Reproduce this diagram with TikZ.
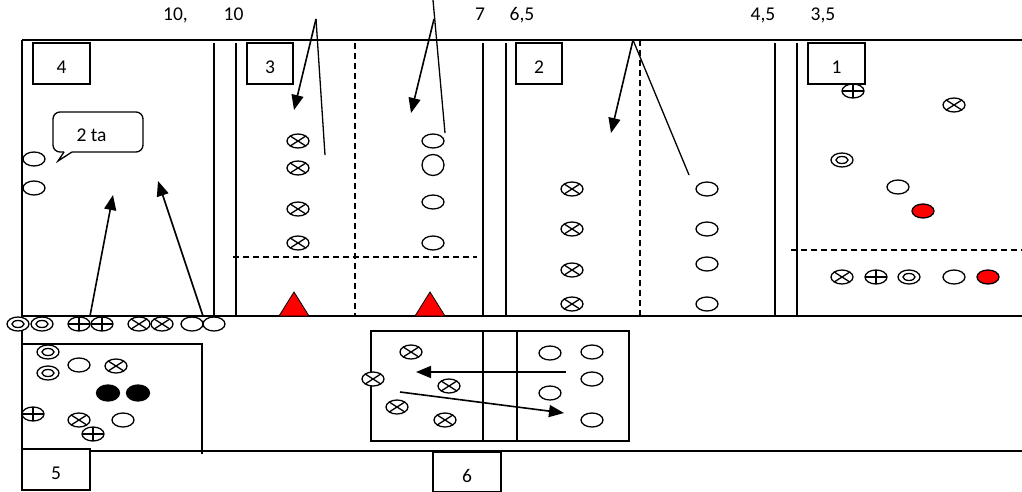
\documentclass[tikz,border=0pt]{standalone}
\usepackage{fontspec}
\setmainfont{Carlito}
\usetikzlibrary{arrows.meta,shapes.geometric}
\tikzset{
  ov/.style={ellipse, draw, line width=1.3pt, fill=white, minimum width=22pt, minimum height=14pt, inner sep=0pt},
  ovx/.style={ov, path picture={\draw[line width=1.3pt] (path picture bounding box.north west) -- (path picture bounding box.south east) (path picture bounding box.south west) -- (path picture bounding box.north east);}},
  ovp/.style={ov, path picture={\draw[line width=1.3pt] (path picture bounding box.north) -- (path picture bounding box.south) (path picture bounding box.west) -- (path picture bounding box.east);}},
  ovo/.style={ov, path picture={\draw[line width=1.3pt] (path picture bounding box.center) ellipse (6pt and 3.5pt);}},
  ovr/.style={ov, fill=red},
  ovk/.style={ov, fill=black, minimum width=23pt, minimum height=16pt},
  lbl/.style={draw, line width=1.2pt, minimum height=41pt, inner sep=0pt, text height=20pt, text depth=0pt},
  wall/.style={line width=1.3pt},
  half/.style={line width=1.3pt, dash pattern=on 6pt off 4pt},
  mv/.style={line width=1.6pt, -{Triangle[length=15pt,width=12pt]}},
  ln/.style={line width=1.3pt},
}
\begin{document}
\begin{tikzpicture}[x=1pt, y=-1pt, font=\fontsize{19.5}{22}\selectfont]
\useasboundingbox (0,0) rectangle (1022,492);
% top numbers
\node[anchor=base] (n10a) at (175.5,21) {10,};
\node[anchor=base] (n10b) at (233.5,21) {10};
\node[anchor=base] (n7) at (480,21) {7};
\node[anchor=base] (n65) at (522,21) {6,5};
\node[anchor=base] (n45) at (763,21) {4,5};
\node[anchor=base] (n35) at (823,21) {3,5};
% frame
\draw[wall] (22,40) -- (1022,40);
\draw[wall] (22,40) -- (22,449);
\draw[wall] (22,316) -- (1022,316);
\draw[wall] (90,451) -- (1022,451);
\draw[wall] (22,344) -- (202,344) -- (202,454);
\draw[wall] (214,43) -- (214,316);
\draw[wall] (236,43) -- (236,316);
\draw[wall] (483,43) -- (483,316);
\draw[wall] (506,43) -- (506,316);
\draw[wall] (775,43) -- (775,316);
\draw[wall] (797,43) -- (797,316);
\draw[half] (355,43) -- (355,316);
\draw[half] (640,40) -- (640,316);
\draw[half] (233,257) -- (477,257);
\draw[half] (791,250) -- (1022,250);
\draw[wall] (371,331) rectangle (629,441);
\draw[wall] (483,331) -- (483,441);
\draw[wall] (517,331) -- (517,441);
% zone labels
\node[lbl, minimum width=57pt] (box4) at (61.5,63.5) {4};
\node[lbl, minimum width=46pt] (box3) at (270,63.5) {3};
\node[lbl, minimum width=46pt] (box2) at (539,63.5) {2};
\node[lbl, minimum width=57pt] (box1) at (836.5,63.5) {1};
\node[lbl, minimum width=68pt] (box5) at (56,469.5) {5};
\node[lbl, minimum width=68pt, minimum height=40pt] (box6) at (467,472) {6};
% speech bubble
\draw[ln, rounded corners=7pt] (64,152) -- (53,152) -- (53,112) -- (143,112) -- (143,152) -- (72,152);
\draw[ln] (72,152) -- (58,161) -- (64,152);
\node[anchor=base] (say) at (91.5,142) {2 ta};
% cones
\draw[line width=0.8pt, fill=red] (279,316) -- (294,292) -- (309,316) -- cycle;
\draw[line width=0.8pt, fill=red] (415,316) -- (430,292) -- (445,316) -- cycle;
% zone 4
\node[ov] (z4a) at (34,159) {};
\node[ov] (z4b) at (34,188) {};
% waiting row
\node[ovo] (w1) at (18,324) {};
\node[ovo] (w2) at (42,324) {};
\node[ovp] (w3) at (79,324) {};
\node[ovp] (w4) at (102,324) {};
\node[ovx] (w5) at (139,324) {};
\node[ovx] (w6) at (162,324) {};
\node[ov] (w7) at (192,324) {};
\node[ov] (w8) at (214,324) {};
% zone 3
\node[ovx] (z3a) at (298,141) {};
\node[ovx] (z3b) at (298,168) {};
\node[ovx] (z3c) at (298,209) {};
\node[ovx] (z3d) at (298,243) {};
\node[ov] (z3e) at (433,141) {};
\node[ov, minimum height=21pt] (z3f) at (433,165) {};
\node[ov] (z3g) at (433,202) {};
\node[ov] (z3h) at (433,243) {};
% zone 2
\node[ovx] (z2a) at (572,189) {};
\node[ovx] (z2b) at (572,229) {};
\node[ovx] (z2c) at (572,270) {};
\node[ovx] (z2d) at (572,304) {};
\node[ov] (z2e) at (707,189) {};
\node[ov] (z2f) at (707,229) {};
\node[ov] (z2g) at (707,264) {};
\node[ov] (z2h) at (707,304) {};
% zone 1
\node[ovp] (z1a) at (853,91) {};
\node[ovx] (z1b) at (954,105) {};
\node[ovo] (z1c) at (842,160) {};
\node[ov] (z1d) at (898,187) {};
\node[ovr] (z1e) at (923,211) {};
\node[ovx] (z1f) at (842,277) {};
\node[ovp] (z1g) at (876,277) {};
\node[ovo] (z1h) at (909,277) {};
\node[ov] (z1i) at (954,277) {};
\node[ovr] (z1j) at (988,277) {};
% zone 5
\node[ovo] (z5a) at (48,352) {};
\node[ovo] (z5b) at (48,373) {};
\node[ov] (z5c) at (79,365) {};
\node[ovx] (z5d) at (116,366) {};
\node[ovk] (z5e) at (108,393) {};
\node[ovk] (z5f) at (138,393) {};
\node[ovp] (z5g) at (33,414) {};
\node[ovx] (z5h) at (79,420) {};
\node[ov] (z5i) at (123,420) {};
\node[ovp] (z5j) at (93,434) {};
% zone 6
\node[ovx] (z6a) at (411,352) {};
\node[ovx] (z6b) at (373,379) {};
\node[ovx] (z6c) at (449,386) {};
\node[ovx] (z6d) at (397,407) {};
\node[ovx] (z6e) at (445,420) {};
\node[ov] (z6f) at (550,353) {};
\node[ov] (z6g) at (592,352) {};
\node[ov] (z6h) at (592,379) {};
\node[ov] (z6i) at (550,393) {};
\node[ov] (z6j) at (592,420) {};
% arrow ends
\coordinate (top3a) at (316,19);
\coordinate (tip3a) at (294,110);
\coordinate (end3a) at (325,155);
\coordinate (top3b) at (433,0);
\coordinate (top3c) at (434,19);
\coordinate (tip3b) at (411,113);
\coordinate (end3b) at (445,133);
\coordinate (top2) at (633,40);
\coordinate (tip2) at (611,133);
\coordinate (end2) at (689,175);
\coordinate (foot4a) at (90,316);
\coordinate (tip4a) at (113,195);
\coordinate (foot4b) at (203,316);
\coordinate (tip4b) at (158,181);
\coordinate (from6a) at (566,372);
\coordinate (tip6a) at (416,372);
\coordinate (from6b) at (400,392);
\coordinate (tip6b) at (564,413);
% moves
\draw[mv] (top3a) -- (tip3a);
\draw[ln] (top3a) -- (end3a);
\draw[mv] (top3c) -- (tip3b);
\draw[ln] (top3b) -- (end3b);
\draw[mv] (top2) -- (tip2);
\draw[ln] (top2) -- (end2);
\draw[mv] (foot4a) -- (tip4a);
\draw[mv] (foot4b) -- (tip4b);
\draw[mv] (from6a) -- (tip6a);
\draw[mv] (from6b) -- (tip6b);
\end{tikzpicture}
\end{document}
